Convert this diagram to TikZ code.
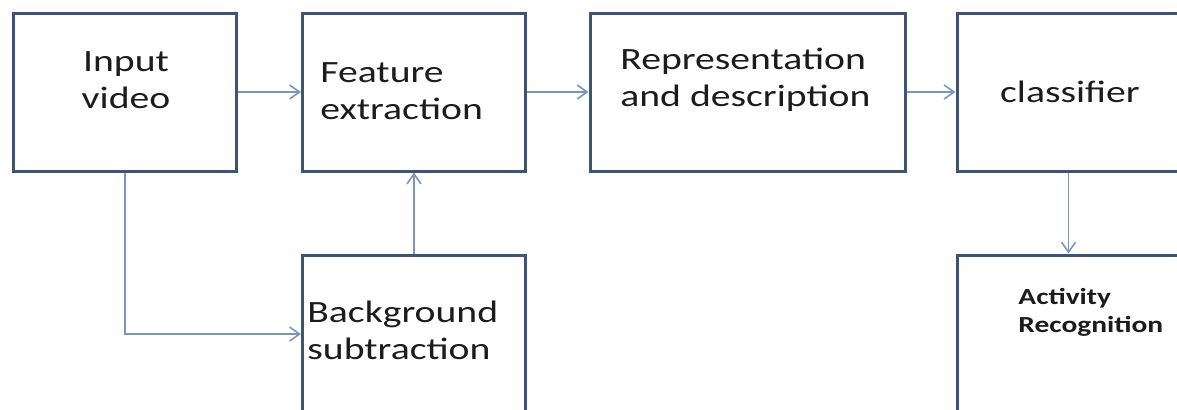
\documentclass[tikz,border=0pt]{standalone}
\usepackage{fontspec}
\setmainfont{Carlito}[FakeStretch=1.28]
\usetikzlibrary{arrows.meta}

\definecolor{boxblue}{RGB}{62,84,118}
\definecolor{arrowblue}{RGB}{122,150,188}
\definecolor{textgray}{RGB}{28,28,28}

\tikzset{
  block/.style={draw=boxblue, line width=1.5pt, fill=white, minimum width=111.5pt, minimum height=79pt, inner sep=0pt},
  blocktext/.style={inner sep=0pt, text=textgray, font=\fontsize{15.5}{18.6}\selectfont},
  flow/.style={draw=arrowblue, line width=0.8pt, -{Straight Barb[length=5pt,width=7pt]}}
}

\begin{document}
\begin{tikzpicture}[x=0.5pt, y=-0.5pt]
    \useasboundingbox (0,0) rectangle (1177,409);
    \fill[white] (0,0) rectangle (1177,409);
    \clip (0,0) rectangle (1177,409);

    % Draw blocks
    \node[block] (input) at (125,92) {};
    \node[block] (feat) at (414,92) {};
    \node[block, minimum width=157.5pt] (repr) at (747.5,92) {};
    \node[block] (clf) at (1068.5,92) {};
    \node[block] (bgsub) at (414,334) {};
    \node[block] (act) at (1068.5,334) {};

    % Block texts
    \node[blocktext, align=center] (inputtxt) at (126,80) {Input\\video};
    \node[blocktext, align=left, anchor=west] (feattxt) at (320,91) {Feature\\extraction};
    \node[blocktext, align=left, anchor=west] (reprtxt) at (620,80) {Representation\\and description};
    \node[blocktext] (clftxt) at (1070,92) {classifier};
    \node[blocktext, align=left, anchor=west] (bgsubtxt) at (307,330) {Background\\subtraction};
    \node[blocktext, font=\bfseries\fontsize{11.5}{14}\selectfont, align=left, anchor=west] (acttxt) at (1018,312) {Activity\\Recognition};

    % Draw connections
    \draw[flow] (input) -- (feat);
    \draw[flow] (feat) -- (repr);
    \draw[flow] (repr) -- (clf);
    \draw[flow] (input.south) |- (bgsub.west);
    \draw[flow] (bgsub.north) -- (feat.south);
    \draw[flow] (clf.south) -- (act.north);

\end{tikzpicture}
\end{document}
